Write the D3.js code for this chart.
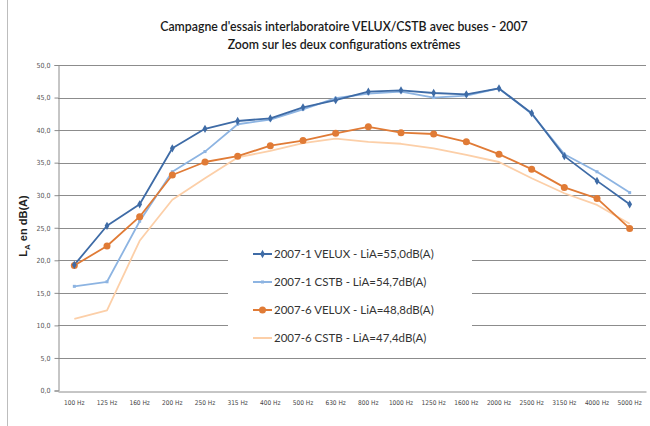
<!DOCTYPE html>
<html><head><meta charset="utf-8">
<script src="https://cdn.jsdelivr.net/npm/d3@7"></script>
<style>body{margin:0;background:#fff}svg{display:block}</style>
</head><body>
<svg id="c" width="650" height="426"></svg>
<script>
const categories = ["100 Hz","125 Hz","160 Hz","200 Hz","250 Hz","315 Hz","400 Hz","500 Hz","630 Hz","800 Hz","1000 Hz","1250 Hz","1600 Hz","2000 Hz","2500 Hz","3150 Hz","4000 Hz","5000 Hz"];
const velux1 = [19.3,25.3,28.6,37.2,40.2,41.4,41.8,43.5,44.6,45.9,46.1,45.7,45.5,46.4,42.6,36.0,32.2,28.6];
const cstb1  = [16.0,16.7,26.0,33.6,36.7,40.9,41.6,43.2,44.9,45.6,45.9,45.0,45.3,46.4,42.5,36.3,33.6,30.4];
const velux6 = [19.2,22.2,26.7,33.1,35.1,36.0,37.6,38.4,39.5,40.5,39.6,39.4,38.2,36.3,34.0,31.2,29.5,24.9];
const cstb6  = [11.0,12.3,23.0,29.3,32.6,35.8,36.8,38.0,38.7,38.2,37.9,37.2,36.2,35.1,32.6,30.3,28.5,25.6];
const yTicks = [0,5,10,15,20,25,30,35,40,45,50];
const seriesNames = ["2007-1 VELUX  - LiA=55,0dB(A)","2007-1 CSTB - LiA=54,7dB(A)","2007-6 VELUX - LiA=48,8dB(A)","2007-6 CSTB - LiA=47,4dB(A)"];
const titleLines = ["Campagne d'essais interlaboratoire VELUX/CSTB avec buses - 2007","Zoom sur les deux configurations extrêmes"];

const series = [
  {name:seriesNames[0], values:velux1, color:"#3E6BA6", width:1.8, marker:"diamond"},
  {name:seriesNames[1], values:cstb1, color:"#8DB4E2", width:1.8, marker:"square"},
  {name:seriesNames[2], values:velux6, color:"#E07B36", width:1.8, marker:"circle"},
  {name:seriesNames[3], values:cstb6, color:"#FCCFA8", width:1.8, marker:"none"}
];

const svg = d3.select("#c");
const L=58, R=646, T=65, B=390.5;
const x = d3.scaleBand().domain(categories).range([L,R]);
const y = d3.scaleLinear().domain([0,50]).range([B,T]);
const fmt = v => d3.format(".1f")(v).replace(".",",");

svg.append("line").attr("x1",7.5).attr("x2",7.5).attr("y1",0).attr("y2",426).attr("stroke","#bdbdbd");

svg.append("g").selectAll("text").data(titleLines).join("text")
  .attr("x",344).attr("y",(d,i)=>31+i*18).attr("text-anchor","middle")
  .attr("font-family","Lato, 'Open Sans', sans-serif").attr("font-size",12.3).attr("font-weight",600)
  .attr("fill","#1a1a1a").text(d=>d);

svg.append("g").selectAll("line").data(yTicks.filter(d=>d>0)).join("line")
  .attr("x1",L).attr("x2",R).attr("y1",d=>Math.round(y(d))+0.5).attr("y2",d=>Math.round(y(d))+0.5)
  .attr("stroke","#8c8c8c").attr("stroke-width",1);

const yAxis = d3.axisLeft(y).tickValues(yTicks).tickFormat(fmt).tickSize(4).tickPadding(4);
const gy = svg.append("g").attr("transform",`translate(${L+0.5},0)`).call(yAxis);
gy.select(".domain").attr("stroke","#8c8c8c");
gy.selectAll(".tick line").attr("stroke","#8c8c8c");
gy.selectAll("text").attr("font-family","'DejaVu Sans Condensed','DejaVu Sans',sans-serif").attr("font-size",7).attr("fill","#555");

const xAxis = d3.axisBottom(x).tickSize(0).tickPadding(9);
const gx = svg.append("g").attr("transform",`translate(0,${Math.round(B)+0.5})`).call(xAxis);
gx.select(".domain").attr("stroke","#8c8c8c");
gx.selectAll("text").attr("font-family","'DejaVu Sans Condensed','DejaVu Sans',sans-serif").attr("font-size",6.5).attr("fill","#444");

const yl = svg.append("text").attr("transform","translate(27,226) rotate(-90)")
  .attr("text-anchor","middle").attr("font-family","'Liberation Sans',Arial,sans-serif")
  .attr("font-size",11).attr("font-weight","bold").attr("fill","#222");
yl.append("tspan").text("L");
yl.append("tspan").attr("font-size",8).attr("dy",3).text("A");
yl.append("tspan").attr("dy",-3).text(" en dB(A)");

const lgX=228, lgY=236, lgW=244, lgH=116;
svg.append("rect").attr("x",lgX).attr("y",lgY).attr("width",lgW).attr("height",lgH).attr("fill","#fff");

const cx = (d,i)=>x(categories[i])+x.bandwidth()/2;
const line = d3.line().x((d,i)=>cx(d,i)).y(d=>y(d));
const order = [3,1,2,0];
order.forEach(k=>{
  const s = series[k];
  svg.append("path").datum(s.values).attr("d",line).attr("fill","none")
    .attr("stroke",s.color).attr("stroke-width",s.width).attr("stroke-linejoin","round");
});
function drawMarker(g,s,px,py){
  if(s.marker==="diamond"){
    g.append("path").attr("d",d3.symbol(d3.symbolDiamond,20)()).attr("transform",`translate(${px},${py})`).attr("fill",s.color);
  } else if(s.marker==="circle"){
    g.append("circle").attr("cx",px).attr("cy",py).attr("r",3.5).attr("fill",s.color);
  } else if(s.marker==="square"){
    g.append("rect").attr("x",px-1.5).attr("y",py-1.5).attr("width",3).attr("height",3).attr("fill",s.color);
  }
}
order.forEach(k=>{
  const s = series[k];
  const g = svg.append("g");
  s.values.forEach((v,i)=>drawMarker(g,s,cx(v,i),y(v)));
});

const lg = svg.append("g");
series.forEach((s,i)=>{
  const yy = 254 + i*28;
  lg.append("line").attr("x1",253).attr("x2",272).attr("y1",yy).attr("y2",yy).attr("stroke",s.color).attr("stroke-width",2);
  drawMarker(lg,s,262.5,yy);
  lg.append("text").attr("x",274).attr("y",yy+4).attr("font-family","Lato, 'Open Sans', sans-serif")
    .attr("font-size",11.5).attr("fill","#333").text(s.name);
});
</script>
</body></html>
